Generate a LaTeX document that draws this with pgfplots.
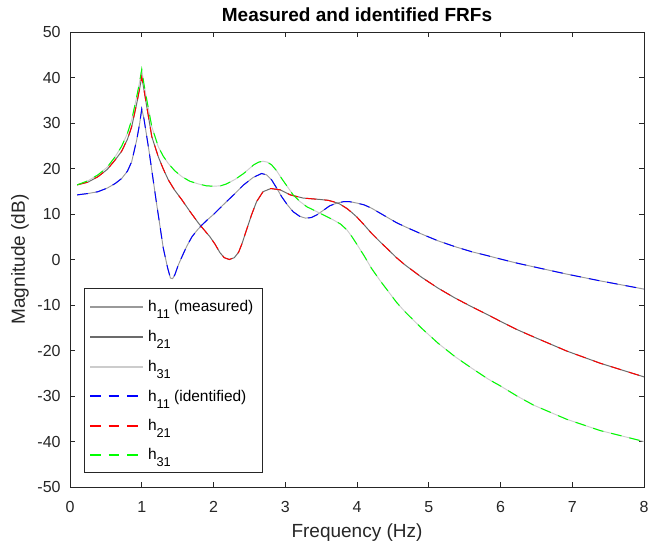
\documentclass[border=0pt]{standalone}
\usepackage{fontspec}
\setmainfont{Liberation Sans}
\usepackage{pgfplots}
\pgfplotsset{compat=1.18}
\usepackage{pgfplotstable}
\definecolor{axgray}{rgb}{0.15,0.15,0.15}
\definecolor{mone}{rgb}{0.6,0.6,0.6}
\definecolor{mtwo}{rgb}{0.42,0.42,0.42}
\definecolor{mthree}{rgb}{0.8,0.8,0.8}
\definecolor{pblue}{rgb}{0,0,1}
\definecolor{pred}{rgb}{1,0,0}
\definecolor{pgreen}{rgb}{0,1,0}
\newcommand\sub[1]{\raisebox{-0.42em}{\fontsize{9.6}{10}\selectfont #1}}

\pgfplotstableread{
x y
0.1 14.2
0.25 14.5
0.39 14.9
0.52 15.7
0.63 16.7
0.72 17.8
0.80 19.4
0.86 21.5
0.93 26.3
0.97 29.8
1.0 33.1
1.03 31.0
1.1 24.0
1.2 13.0
1.3 2.5
1.36 -1.8
1.40 -4.1
1.43 -4.2
1.46 -3.4
1.51 -1.2
1.56 0.6
1.63 3.0
1.70 5.0
1.77 6.4
1.84 7.6
1.92 8.8
2.0 9.9
2.18 12.7
2.30 14.5
2.42 16.4
2.55 18.0
2.67 18.9
2.74 18.6
2.81 17.5
2.88 15.7
2.95 13.8
3.03 12.0
3.11 10.5
3.20 9.5
3.28 9.1
3.36 9.2
3.44 9.8
3.53 10.8
3.62 11.8
3.72 12.4
3.81 12.7
3.90 12.7
4.0 12.4
4.10 12.0
4.20 11.3
4.32 10.2
4.44 9.1
4.55 8.1
4.67 7.2
4.90 5.6
5.13 4.1
5.37 2.8
5.60 1.7
5.83 0.8
6.0 0.1
6.23 -0.8
6.46 -1.6
6.92 -3.2
7.39 -4.7
8.0 -6.5
}\hone

\pgfplotstableread{
x y
0.1 16.4
0.25 17.0
0.39 18.2
0.52 19.8
0.63 21.9
0.72 23.8
0.80 26.4
0.86 29.2
0.93 34.3
0.97 37.5
1.0 40.2
1.03 37.4
1.07 33.6
1.14 27.0
1.23 22.6
1.30 19.9
1.37 17.5
1.46 15.2
1.56 13.1
1.67 10.6
1.79 8.0
1.88 6.3
1.95 5.0
2.02 3.4
2.09 1.5
2.15 0.4
2.22 0.0
2.29 0.4
2.35 1.6
2.40 3.6
2.46 6.5
2.53 9.8
2.60 12.7
2.69 14.9
2.80 15.6
2.93 15.3
3.07 14.2
3.25 13.5
3.48 13.2
3.60 13.0
3.67 12.7
3.76 12.2
3.86 11.2
3.93 10.3
4.0 9.3
4.10 7.6
4.20 5.8
4.32 3.9
4.44 2.1
4.55 0.4
4.67 -1.2
4.90 -3.9
5.13 -6.3
5.37 -8.5
5.60 -10.4
5.83 -12.2
6.0 -13.6
6.23 -15.4
6.46 -17.0
6.92 -20.1
7.39 -22.8
8.0 -25.8
}\htwo

\pgfplotstableread{
x y
0.1 16.4
0.25 17.3
0.39 18.6
0.52 20.3
0.63 22.6
0.72 24.9
0.80 27.7
0.86 30.7
0.93 35.8
0.97 39.0
1.0 41.8
1.03 38.6
1.07 35.1
1.14 29.2
1.23 24.8
1.30 22.7
1.37 21.1
1.46 19.5
1.56 18.2
1.67 17.2
1.79 16.6
1.90 16.2
2.0 16.1
2.10 16.2
2.18 16.6
2.30 17.6
2.42 18.9
2.56 20.8
2.63 21.4
2.69 21.6
2.75 21.4
2.81 20.8
2.88 19.5
2.95 17.8
3.03 16.0
3.11 14.2
3.20 12.8
3.30 11.6
3.39 10.9
3.48 10.2
3.57 9.5
3.67 8.7
3.77 7.8
3.86 6.5
3.93 5.0
4.0 3.3
4.10 0.8
4.20 -1.9
4.32 -4.6
4.44 -7.1
4.55 -9.4
4.67 -11.5
4.90 -15.1
5.13 -18.4
5.37 -21.4
5.60 -23.9
5.83 -26.3
6.0 -27.8
6.23 -30.0
6.46 -32.0
6.92 -35.1
7.39 -37.6
8.0 -40.0
}\hthree

\begin{document}
\begin{tikzpicture}
\begin{axis}[
  name=ax,
  scale only axis,
  width=430.5pt, height=341.25pt,
  xmin=0, xmax=8, ymin=-50, ymax=50,
  xtick={0,1,...,8}, ytick={-50,-40,...,50},
  axis line style={axgray, line width=0.6pt},
  tick style={axgray, line width=0.6pt},
  major tick length=4pt,
  ticklabel style={font=\fontsize{12}{14}\selectfont, text=axgray},
  xticklabel style={yshift=-7pt},
  yticklabel style={xshift=-3.5pt},
  /pgf/number format/assume math mode=true,
  xlabel={Frequency (Hz)}, ylabel={Magnitude (dB)},
  label style={font=\fontsize{14.25}{16}\selectfont, text=axgray},
  xlabel style={at={(axis description cs:0.5,-0.101)}, anchor=center},
  ylabel style={at={(axis description cs:-0.0871,0.5)}, anchor=center},
  title={Measured and identified FRFs},
  every axis title shift=0pt,
  title style={font=\bfseries\fontsize{14.25}{16}\selectfont, at={(axis description cs:0.5,1.0374)}, anchor=center},
]
\addplot[draw=mone, line width=0.7pt] table {\hone};
\addplot[draw=mtwo, line width=0.75pt] table {\htwo};
\addplot[draw=mthree, line width=0.7pt] table {\hthree};
\addplot[draw=pblue, line width=0.75pt, dash pattern=on 8pt off 6pt] table {\hone};
\addplot[draw=pred, line width=0.75pt, dash pattern=on 8pt off 6pt] table {\htwo};
\addplot[draw=pgreen, line width=0.75pt, dash pattern=on 8pt off 6pt] table {\hthree};
\end{axis}
% legend
\begin{scope}[shift={(ax.south west)}]
\draw[axgray, line width=0.6pt, fill=white] (10.5pt,11.25pt) rectangle (144pt,149.25pt);
\draw[mone, line width=0.8pt] (15pt,135pt) -- (54.5pt,135pt);
\draw[mtwo, line width=1pt] (15pt,112.5pt) -- (54.5pt,112.5pt);
\draw[mthree, line width=0.8pt] (15pt,90pt) -- (54.5pt,90pt);
\draw[pblue, line width=0.9pt, dash pattern=on 8pt off 6pt] (15pt,68.25pt) -- (54.5pt,68.25pt);
\draw[pred, line width=0.9pt, dash pattern=on 8pt off 6pt] (15pt,45.75pt) -- (54.5pt,45.75pt);
\draw[pgreen, line width=0.9pt, dash pattern=on 8pt off 6pt] (15pt,24pt) -- (54.5pt,24pt);
\begin{scope}[every node/.style={anchor=base west, inner sep=0pt, font=\fontsize{11.6}{13}\selectfont}]
\node at (58.3pt,131.5pt) {h\sub{11} (measured)};
\node at (58.3pt,109.0pt) {h\sub{21}};
\node at (58.3pt,86.5pt) {h\sub{31}};
\node at (58.3pt,64.0pt) {h\sub{11} (identified)};
\node at (58.3pt,42.2pt) {h\sub{21}};
\node at (58.3pt,20.3pt) {h\sub{31}};
\end{scope}
\end{scope}
\pgfresetboundingbox
\path[use as bounding box] ([xshift=-52.5pt,yshift=-43.5pt]ax.south west) rectangle ([xshift=3pt,yshift=24pt]ax.north east);
\end{tikzpicture}
\end{document}
